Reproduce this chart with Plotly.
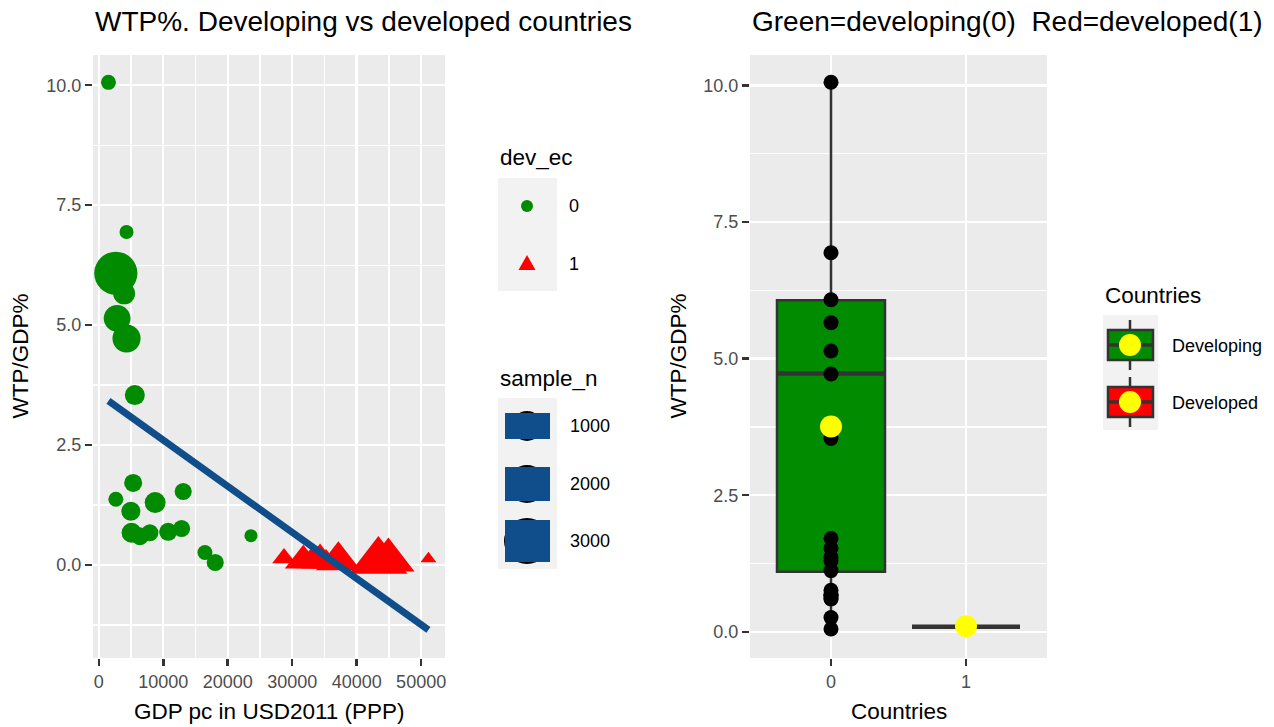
import numpy as np
import plotly.graph_objects as go

# ---------------- data ----------------
# developing countries (dev_ec = 0)
gdp_dev0 = [1500, 4300, 2640, 3930, 2840, 4300, 5590, 5330, 2640, 4970,
            8740, 13090, 5080, 6370, 7920, 10760, 12840, 23600, 16460, 18060]
wtp_dev0 = [10.06, 6.94, 6.08, 5.66, 5.14, 4.72, 3.54, 1.71, 1.37, 1.12,
            1.30, 1.53, 0.67, 0.60, 0.67, 0.69, 0.76, 0.61, 0.26, 0.05]
n_dev0 = [420, 370, 3500, 900, 1350, 1480, 750, 610, 420, 680,
          820, 550, 750, 610, 550, 610, 550, 320, 420, 550]

# developed countries (dev_ec = 1)
gdp_dev1 = [28730, 31720, 33080, 34320, 35250, 37160, 43370, 44920, 51130]
wtp_dev1 = [0.14, 0.09, 0.08, 0.10, 0.06, 0.09, 0.08, 0.10, 0.13]
n_dev1 = [310, 750, 600, 800, 500, 1100, 1860, 1500, 140]

# linear fit shown in the left panel
lm_intercept = 3.564
lm_slope = -9.62e-5

# box-plot summary (right panel)
box_cat = [0, 1]
box_q1 = [1.10, 0.09]
box_median = [4.73, 0.09]
box_q3 = [6.07, 0.09]
box_low = [0.03, 0.06]
box_high = [10.05, 0.14]
box_mean = [3.76, 0.10]
box_fill = ["#008B00", "#FF0000"]

x_ticks = [0, 10000, 20000, 30000, 40000, 50000]
y_ticks = [0, 2.5, 5.0, 7.5, 10.0]
size_breaks = [1000, 2000, 3000]
dev_levels = ["0", "1"]
country_levels = ["Developing", "Developed"]

# ---------------- helpers ----------------
W, H = 1274, 727
FONT = "Liberation Sans, Arial, sans-serif"


def px(x):
    return x / W


def py(y):
    return 1 - y / H


def diam(n):
    return 0.73 * np.sqrt(np.asarray(n, dtype=float))


fig = go.Figure()

# ---------------- left panel ----------------
fig.add_trace(go.Scatter(
    x=gdp_dev0, y=wtp_dev0, mode="markers",
    marker=dict(color="#008B00", size=diam(n_dev0), line=dict(width=0), opacity=1),
    xaxis="x", yaxis="y", hoverinfo="skip", showlegend=False))
fig.add_trace(go.Scatter(
    x=gdp_dev1, y=wtp_dev1, mode="markers",
    marker=dict(color="#FF0000", symbol="triangle-up", size=1.6 * diam(n_dev1),
                line=dict(width=0), opacity=1),
    xaxis="x", yaxis="y", hoverinfo="skip", showlegend=False))

all_x = np.array(gdp_dev0 + gdp_dev1, dtype=float)
fit_x = np.array([all_x.min(), all_x.max()])
fit_y = lm_intercept + lm_slope * fit_x
fig.add_trace(go.Scatter(
    x=fit_x, y=fit_y, mode="lines", line=dict(color="#104E8B", width=7),
    xaxis="x", yaxis="y", hoverinfo="skip", showlegend=False))

# ---------------- right panel ----------------
for i, c in enumerate(box_cat):
    fig.add_trace(go.Box(
        x=[c], q1=[box_q1[i]], median=[box_median[i]], q3=[box_q3[i]],
        lowerfence=[box_low[i]], upperfence=[box_high[i]],
        width=0.8, whiskerwidth=0, boxpoints=False,
        fillcolor=box_fill[i], line=dict(color="#333333", width=2.5),
        xaxis="x2", yaxis="y2", hoverinfo="skip", showlegend=False))
    fig.add_trace(go.Scatter(
        x=[c - 0.4, c + 0.4], y=[box_median[i], box_median[i]], mode="lines",
        line=dict(color="#333333", width=4.5),
        xaxis="x2", yaxis="y2", hoverinfo="skip", showlegend=False))

dots_x = [0] * len(wtp_dev0) + [1] * len(wtp_dev1)
dots_y = wtp_dev0 + wtp_dev1
fig.add_trace(go.Scatter(
    x=dots_x, y=dots_y, mode="markers",
    marker=dict(color="black", size=15, line=dict(width=0), opacity=1),
    xaxis="x2", yaxis="y2", hoverinfo="skip", showlegend=False))
fig.add_trace(go.Scatter(
    x=box_cat, y=box_mean, mode="markers",
    marker=dict(color="#FFFF00", size=22, line=dict(width=0), opacity=1),
    xaxis="x2", yaxis="y2", hoverinfo="skip", showlegend=False))

# ---------------- axes ----------------
tickfont = dict(family=FONT, size=18, color="#4D4D4D")
common = dict(showline=False, zeroline=False, ticks="outside", ticklen=7, tickwidth=2.5,
              tickcolor="#333333", tickfont=tickfont, showgrid=True, gridcolor="white",
              gridwidth=2.4, layer="below traces", fixedrange=True)

fig.update_layout(
    width=W, height=H, margin=dict(l=0, r=0, t=0, b=0),
    paper_bgcolor="white", plot_bgcolor="#EBEBEB", boxmode="overlay",
    showlegend=False,
    xaxis=dict(domain=[px(93), px(445)], range=[-900, 53700], anchor="y",
               tickmode="array", tickvals=x_ticks, ticktext=[str(v) for v in x_ticks],
               minor=dict(tickmode="linear", tick0=5000, dtick=10000, showgrid=True,
                          gridcolor="white", gridwidth=1.2, ticks=""),
               **common),
    yaxis=dict(domain=[py(658), py(55)], range=[-1.94, 10.63], anchor="x",
               tickmode="array", tickvals=y_ticks, ticktext=[f"{v:.1f}" for v in y_ticks],
               minor=dict(tickmode="linear", tick0=1.25, dtick=2.5, showgrid=True,
                          gridcolor="white", gridwidth=1.2, ticks=""),
               **common),
    xaxis2=dict(domain=[px(750), px(1047)], range=[-0.6, 1.6], anchor="y2",
                tickmode="array", tickvals=box_cat, ticktext=[str(v) for v in box_cat],
                **common),
    yaxis2=dict(domain=[py(658), py(55)], range=[-0.48, 10.56], anchor="x2",
                tickmode="array", tickvals=y_ticks, ticktext=[f"{v:.1f}" for v in y_ticks],
                minor=dict(tickmode="linear", tick0=1.25, dtick=2.5, showgrid=True,
                           gridcolor="white", gridwidth=1.2, ticks=""),
                **common),
)

# ---------------- text ----------------
ann = []


def text(t, x, y, size, xanchor="left", angle=0, color="black"):
    ann.append(dict(text=t, x=px(x), y=py(y), xref="paper", yref="paper",
                    xanchor=xanchor, yanchor="middle", showarrow=False, textangle=angle,
                    font=dict(family=FONT, size=size, color=color)))


text("WTP%. Developing vs developed countries", 93, 21, 28)
text("Green=developing(0)  Red=developed(1)", 750, 21, 28)
text("GDP pc in USD2011 (PPP)", 269, 711, 22.5, xanchor="center")
text("Countries", 898.5, 711, 22.5, xanchor="center")
text("WTP/GDP%", 20, 356.5, 22.5, xanchor="center", angle=-90)
text("WTP/GDP%", 678, 356.5, 22.5, xanchor="center", angle=-90)

shapes = []


def rect(x0, y0, x1, y1, fill, lc=None, lw=0):
    shapes.append(dict(type="rect", xref="paper", yref="paper", x0=px(x0), x1=px(x1),
                       y0=py(y1), y1=py(y0), fillcolor=fill,
                       line=dict(color=lc or fill, width=lw), layer="above"))


def circle(cx, cy, d, fill):
    shapes.append(dict(type="circle", xref="paper", yref="paper",
                       x0=px(cx - d / 2), x1=px(cx + d / 2), y0=py(cy + d / 2), y1=py(cy - d / 2),
                       fillcolor=fill, line=dict(width=0), layer="above"))


def seg(x0, y0, x1, y1, color, w):
    shapes.append(dict(type="line", xref="paper", yref="paper", x0=px(x0), x1=px(x1),
                       y0=py(y0), y1=py(y1), line=dict(color=color, width=w), layer="above"))


# legend: dev_ec
text("dev_ec", 498, 157, 22.5)
rect(498, 178, 557, 291, "#F2F2F2")
circle(527, 206, 12, "#008B00")
shapes.append(dict(type="path", xref="paper", yref="paper",
                   path=f"M {px(518.5)},{py(270)} L {px(535.5)},{py(270)} L {px(527)},{py(255)} Z",
                   fillcolor="#FF0000", line=dict(width=0), layer="above"))
for lab, yy in zip(dev_levels, [206, 264]):
    text(lab, 567, yy, 18)

# legend: sample_n
text("sample_n", 498, 378, 22.5)
rect(498, 398, 557, 569, "#F2F2F2")
key_y = [426, 484, 541]
key_d = [30, 38, 46]
key_h = [26, 34, 42]
for lab, yy, d, h in zip(size_breaks, key_y, key_d, key_h):
    circle(527, yy, d, "black")
    rect(505, yy - h / 2, 550, yy + h / 2, "#104E8B")
    text(str(lab), 568, yy, 18)

# legend: Countries
text("Countries", 1103, 295, 22.5)
rect(1103, 315, 1158, 430, "#F2F2F2")
for lab, yy, fill in zip(country_levels, [345, 402], box_fill):
    seg(1130, yy - 25, 1130, yy + 25, "#333333", 2.5)
    rect(1108, yy - 15, 1153, yy + 15, fill, "#333333", 2.5)
    seg(1108, yy, 1153, yy, "#333333", 3.5)
    circle(1130, yy, 22, "#FFFF00")
    text(lab, 1170, yy + 1, 18)

fig.update_layout(annotations=ann, shapes=shapes)
fig.write_html(
    "out.html",
    config={"displayModeBar": False, "staticPlot": True},
    post_script="document.body.style.margin='0';document.body.style.overflow='hidden';",
)
